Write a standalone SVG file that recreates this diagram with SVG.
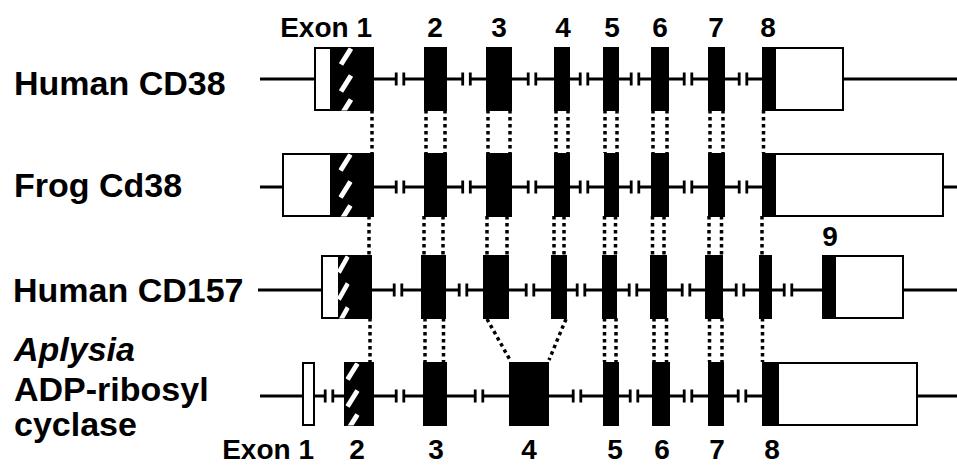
<svg xmlns="http://www.w3.org/2000/svg" xmlns:xlink="http://www.w3.org/1999/xlink" width="957" height="466" viewBox="0 0 957 466">
  <style>
    .bb { stroke: #000; stroke-width: 3; fill: none; }
    .ex { fill: #000; }
    .utr { fill: #fff; stroke: #000; stroke-width: 2; }
    .dot { stroke: #000; stroke-width: 3.5; stroke-dasharray: 3.5 3.5; fill: none; }
    .name { font-family: "Liberation Sans", Arial, sans-serif; font-weight: bold; font-size: 34px; fill: #000; }
    .num { font-family: "Liberation Sans", Arial, sans-serif; font-weight: bold; font-size: 28px; fill: #000; text-anchor: middle; }
  </style>
  <defs>
    <!-- intron break: gap in the backbone flanked by two short bars -->
    <g id="brk">
      <rect x="-3" y="-3" width="6" height="6" fill="#fff"/>
      <rect x="-5.2" y="-6.5" width="2.8" height="13" fill="#000"/>
      <rect x="2.4" y="-6.5" width="2.8" height="13" fill="#000"/>
    </g>
    <!-- white diagonal stripes marking the signal-peptide part of the first coding exon -->
    <clipPath id="hclip"><rect x="0" y="0" width="14" height="63"/></clipPath>
    <g id="hatch">
      <g clip-path="url(#hclip)" stroke="#fff" stroke-width="5">
        <line x1="2" y1="17" x2="12" y2="1"/>
        <line x1="2" y1="44" x2="12" y2="28"/>
        <line x1="2" y1="68" x2="12" y2="52"/>
      </g>
    </g>
  </defs>

  <rect width="957" height="466" fill="#fff"/>

  <!-- exon number labels -->
  <g id="top-labels">
    <text class="num" x="372" y="37" style="text-anchor:end">Exon 1</text>
    <text class="num" x="435" y="37">2</text>
    <text class="num" x="499" y="37">3</text>
    <text class="num" x="563" y="37">4</text>
    <text class="num" x="612" y="37">5</text>
    <text class="num" x="660" y="37">6</text>
    <text class="num" x="716" y="37">7</text>
    <text class="num" x="768" y="37">8</text>
  </g>

  <!-- dotted correspondences between homologous exons -->
  <g id="connectors">
    <path class="dot" d="M372 110V153 M426 110V153 M445 110V153 M488 110V153 M510 110V153 M556 110V153 M568 110V153 M605 110V153 M617 110V153 M653 110V153 M667 110V153 M710 110V153 M723 110V153 M763.5 110V153"/>
    <path class="dot" d="M369 216V255 M424 216V255 M443 216V255 M487 216V255 M507 216V255 M554 216V255 M564 216V255 M604.5 216V255 M615.5 216V255 M652.5 216V255 M664 216V255 M709 216V255 M721.5 216V255 M762 216V255"/>
    <path class="dot" d="M370 318V362 M425 318V362 M443.5 318V362 M487 319L510 360 M566 319L549 360 M604.5 318V362 M616 318V362 M654 318V362 M666.5 318V362 M709.5 318V362 M722 318V362 M762.5 318V362"/>
  </g>

  <!-- Human CD38 -->
  <g id="human-cd38">
    <text class="name" x="14" y="95">Human CD38</text>
    <line class="bb" x1="260" y1="79" x2="957" y2="79"/>
    <rect class="utr" x="315" y="48" width="16" height="62"/>
    <rect class="ex" x="331" y="47" width="43" height="64"/>
    <use href="#hatch" xlink:href="#hatch" transform="translate(339,47.5)"/>
    <use href="#brk" xlink:href="#brk" transform="translate(400,79)"/>
    <rect class="ex" x="424" y="47" width="23" height="64"/>
    <use href="#brk" xlink:href="#brk" transform="translate(466.5,79)"/>
    <rect class="ex" x="486" y="47" width="26" height="64"/>
    <use href="#brk" xlink:href="#brk" transform="translate(532,79)"/>
    <rect class="ex" x="554" y="47" width="16" height="64"/>
    <use href="#brk" xlink:href="#brk" transform="translate(584,79)"/>
    <rect class="ex" x="603" y="47" width="16" height="64"/>
    <use href="#brk" xlink:href="#brk" transform="translate(635,79)"/>
    <rect class="ex" x="651" y="47" width="18" height="64"/>
    <use href="#brk" xlink:href="#brk" transform="translate(688,79)"/>
    <rect class="ex" x="708" y="47" width="17" height="64"/>
    <use href="#brk" xlink:href="#brk" transform="translate(743,79)"/>
    <rect class="utr" x="775" y="48" width="68" height="62"/>
    <rect class="ex" x="762" y="47" width="13" height="64"/>
  </g>

  <!-- Frog Cd38 -->
  <g id="frog-cd38">
    <text class="name" x="14" y="197">Frog Cd38</text>
    <line class="bb" x1="260" y1="187" x2="957" y2="187"/>
    <rect class="utr" x="283" y="154" width="48" height="62"/>
    <rect class="ex" x="330" y="153" width="44" height="64"/>
    <use href="#hatch" xlink:href="#hatch" transform="translate(338.5,153.5)"/>
    <use href="#brk" xlink:href="#brk" transform="translate(400,187)"/>
    <rect class="ex" x="424" y="153" width="23" height="64"/>
    <use href="#brk" xlink:href="#brk" transform="translate(466.5,187)"/>
    <rect class="ex" x="486" y="153" width="26" height="64"/>
    <use href="#brk" xlink:href="#brk" transform="translate(532,187)"/>
    <rect class="ex" x="554" y="153" width="16" height="64"/>
    <use href="#brk" xlink:href="#brk" transform="translate(584,187)"/>
    <rect class="ex" x="604" y="153" width="15" height="64"/>
    <use href="#brk" xlink:href="#brk" transform="translate(635,187)"/>
    <rect class="ex" x="651" y="153" width="18" height="64"/>
    <use href="#brk" xlink:href="#brk" transform="translate(688,187)"/>
    <rect class="ex" x="708" y="153" width="17" height="64"/>
    <use href="#brk" xlink:href="#brk" transform="translate(743,187)"/>
    <rect class="utr" x="775" y="154" width="168" height="62"/>
    <rect class="ex" x="762" y="153" width="13" height="64"/>
  </g>

  <!-- Human CD157 -->
  <g id="human-cd157">
    <text class="name" x="13" y="302">Human CD157</text>
    <text class="num" x="830" y="246">9</text>
    <line class="bb" x1="258" y1="290" x2="957" y2="290"/>
    <rect class="utr" x="322" y="256" width="17" height="62"/>
    <rect class="ex" x="338" y="255" width="34" height="64"/>
    <use href="#hatch" xlink:href="#hatch" transform="translate(337,255.5) scale(0.9,1)"/>
    <use href="#brk" xlink:href="#brk" transform="translate(398,290)"/>
    <rect class="ex" x="421" y="255" width="25" height="64"/>
    <use href="#brk" xlink:href="#brk" transform="translate(463,290)"/>
    <rect class="ex" x="483" y="255" width="26" height="64"/>
    <use href="#brk" xlink:href="#brk" transform="translate(530,290)"/>
    <rect class="ex" x="551" y="255" width="16" height="64"/>
    <use href="#brk" xlink:href="#brk" transform="translate(581,290)"/>
    <rect class="ex" x="602" y="255" width="15" height="64"/>
    <use href="#brk" xlink:href="#brk" transform="translate(633,290)"/>
    <rect class="ex" x="650" y="255" width="17" height="64"/>
    <use href="#brk" xlink:href="#brk" transform="translate(686,290)"/>
    <rect class="ex" x="705" y="255" width="18" height="64"/>
    <use href="#brk" xlink:href="#brk" transform="translate(740,290)"/>
    <rect class="ex" x="759" y="255" width="13" height="64"/>
    <use href="#brk" xlink:href="#brk" transform="translate(788,290)"/>
    <rect class="utr" x="835" y="256" width="68" height="62"/>
    <rect class="ex" x="822" y="255" width="13" height="64"/>
  </g>

  <!-- Aplysia ADP-ribosyl cyclase -->
  <g id="aplysia-cyclase">
    <text class="name" x="14" y="361" font-style="italic">Aplysia</text>
    <text class="name" x="14" y="401">ADP-ribosyl</text>
    <text class="name" x="14" y="436">cyclase</text>
    <line class="bb" x1="260" y1="396" x2="957" y2="396"/>
    <rect class="utr" x="303" y="363" width="11" height="62"/>
    <use href="#brk" xlink:href="#brk" transform="translate(329,396)"/>
    <rect class="ex" x="344" y="362" width="30" height="64"/>
    <use href="#hatch" xlink:href="#hatch" transform="translate(345.5,362.5)"/>
    <use href="#brk" xlink:href="#brk" transform="translate(400,396)"/>
    <rect class="ex" x="423" y="362" width="24" height="64"/>
    <use href="#brk" xlink:href="#brk" transform="translate(479,396)"/>
    <rect class="ex" x="509" y="362" width="40" height="64"/>
    <use href="#brk" xlink:href="#brk" transform="translate(577,396)"/>
    <rect class="ex" x="603" y="362" width="16" height="64"/>
    <use href="#brk" xlink:href="#brk" transform="translate(634,396)"/>
    <rect class="ex" x="652" y="362" width="18" height="64"/>
    <use href="#brk" xlink:href="#brk" transform="translate(688,396)"/>
    <rect class="ex" x="708" y="362" width="16" height="64"/>
    <use href="#brk" xlink:href="#brk" transform="translate(742,396)"/>
    <rect class="utr" x="778" y="363" width="139" height="62"/>
    <rect class="ex" x="762" y="362" width="16" height="64"/>
  </g>

  <g id="bottom-labels">
    <text class="num" x="314" y="459" style="text-anchor:end">Exon 1</text>
    <text class="num" x="357" y="459">2</text>
    <text class="num" x="436" y="459">3</text>
    <text class="num" x="529" y="459">4</text>
    <text class="num" x="615" y="459">5</text>
    <text class="num" x="662" y="459">6</text>
    <text class="num" x="717" y="459">7</text>
    <text class="num" x="772" y="459">8</text>
  </g>
</svg>
